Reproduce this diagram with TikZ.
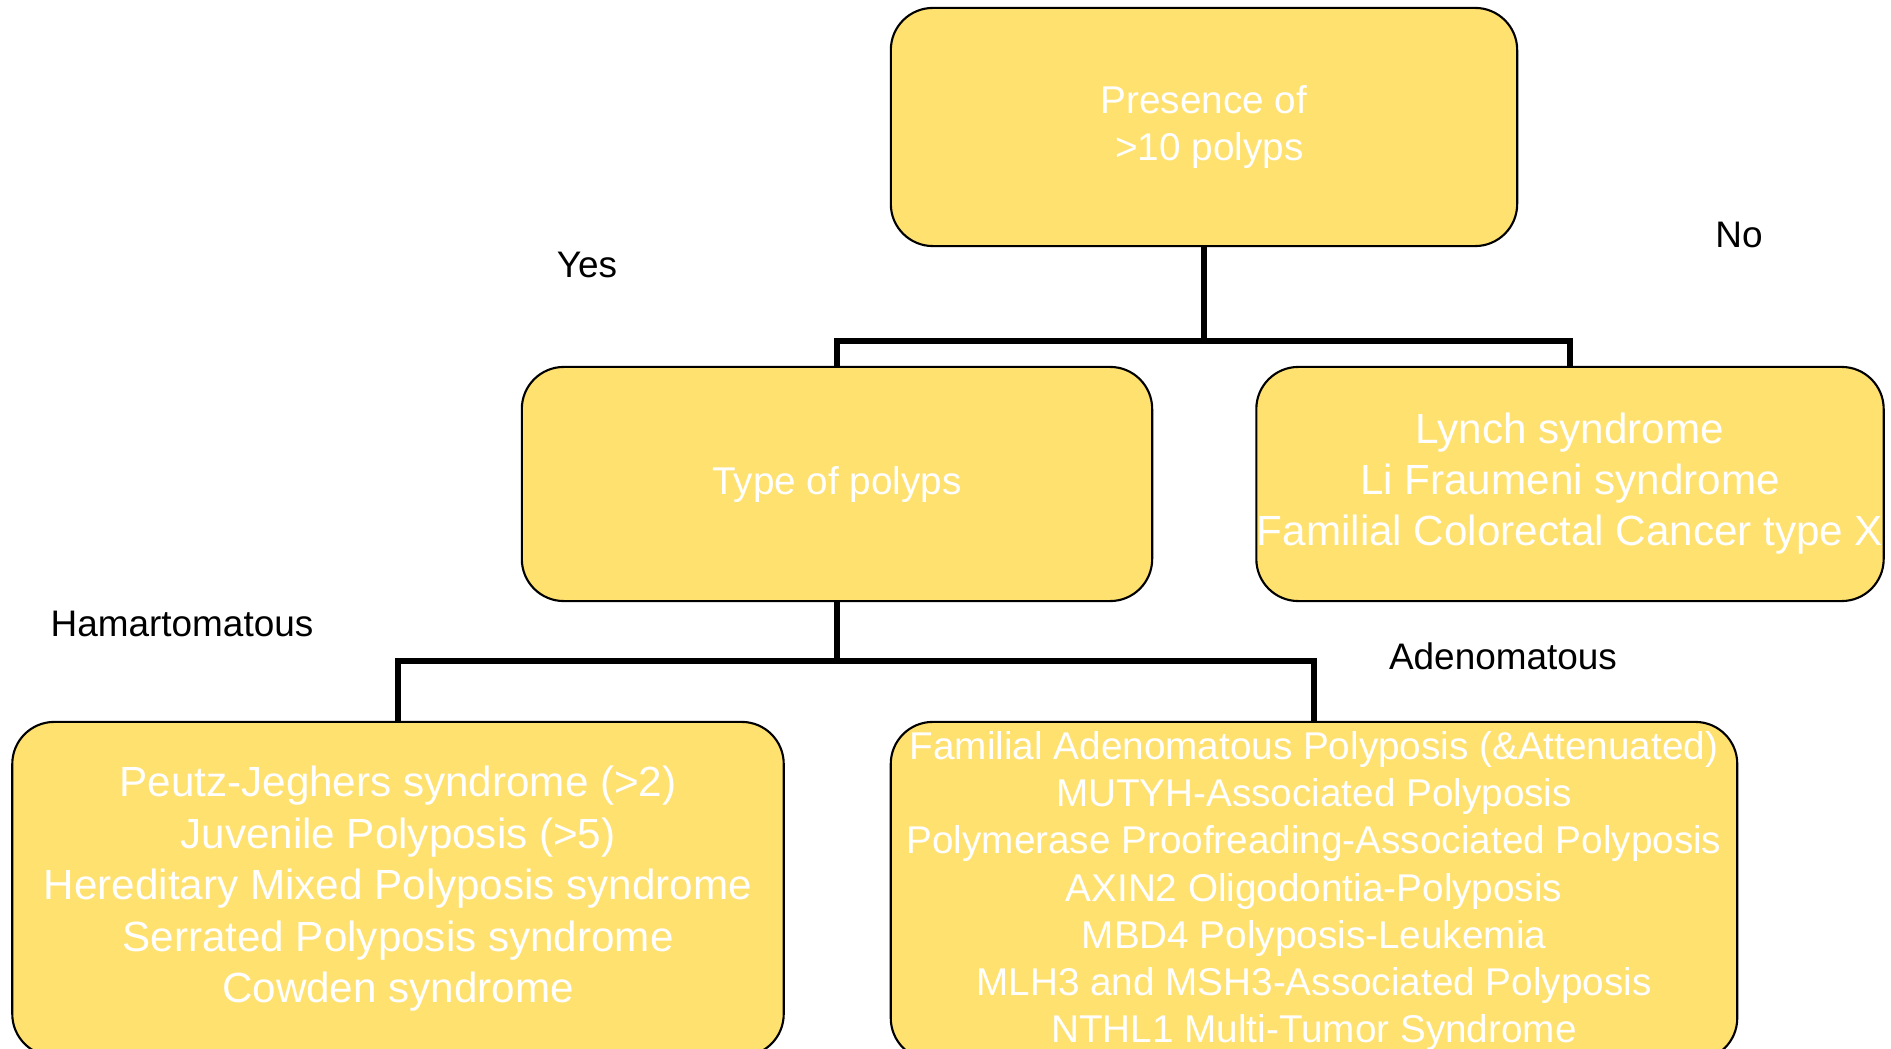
\documentclass[tikz,border=0pt]{standalone}
\usepackage{fontspec}
\setmainfont{Liberation Sans}
\usepackage{tikz}
\usetikzlibrary{positioning}

\definecolor{boxyellow}{RGB}{255,225,112}

\begin{document}
\begin{tikzpicture}%
        [x=0.01cm, y=-0.01cm,
        box/.style={draw=black, line width=0.6pt, fill=boxyellow, rounded corners=0.42cm,
                    text=white, align=center, inner sep=0pt},
        conn/.style={draw=black, line width=1.5pt},
        branch/.style={text=black, font=\fontsize{10.5}{12}\selectfont}]
    %
    %% Page frame
    \clip (0,0) rectangle (1891,1049);
    \useasboundingbox (0,0) rectangle (1891,1049);
    %%
    %% Drawing the boxes
    \node[box, minimum width=6.26cm, minimum height=2.38cm, font=\fontsize{11}{13.1}\selectfont]
        (presence) at (1204,127) {Presence of\\ \ >10 polyps};
    \node[box, minimum width=6.30cm, minimum height=2.34cm, font=\fontsize{11}{13.1}\selectfont]
        (polyptype) at (837,484) {Type of polyps};
    \node[box, minimum width=6.27cm, minimum height=2.34cm, font=\fontsize{12}{14.5}\selectfont]
        (nonpoly) at (1570,484) {Lynch syndrome\\ Li Fraumeni syndrome\\ Familial Colorectal Cancer type X};
    \node[box, minimum width=7.71cm, minimum height=3.34cm, font=\fontsize{12}{14.65}\selectfont]
        (hamart) at (398,889) {Peutz-Jeghers syndrome (>2)\\ Juvenile Polyposis (>5)\\
        Hereditary Mixed Polyposis syndrome\\ Serrated Polyposis syndrome\\ Cowden syndrome};
    \node[box, minimum width=8.46cm, minimum height=3.38cm, font=\fontsize{11}{13.4}\selectfont]
        (adenom) at (1314,891) {Familial Adenomatous Polyposis (\&Attenuated)\\
        MUTYH-Associated Polyposis\\ Polymerase Proofreading-Associated Polyposis\\
        AXIN2 Oligodontia-Polyposis\\ MBD4 Polyposis-Leukemia\\
        MLH3 and MSH3-Associated Polyposis\\ NTHL1 Multi-Tumor Syndrome};
    %%
    %% Drawing the connectors
    \coordinate (fork1) at (1204,341);
    \coordinate (fork2) at (837,661);
    \draw[conn] (presence.south) -- (fork1);
    \draw[conn] (polyptype.north) |- (fork1) -| (nonpoly.north);
    \draw[conn] (polyptype.south) -- (fork2);
    \draw[conn] (hamart.north) |- (fork2) -| (adenom.north);
    %%
    %% Branch labels
    \node[branch] (yes) at (587,265) {Yes};
    \node[branch] (no) at (1739,235) {No};
    \node[branch] (hamlabel) at (182,624) {Hamartomatous};
    \node[branch] (adelabel) at (1503,656) {Adenomatous};
    %%
\end{tikzpicture}
\end{document}
